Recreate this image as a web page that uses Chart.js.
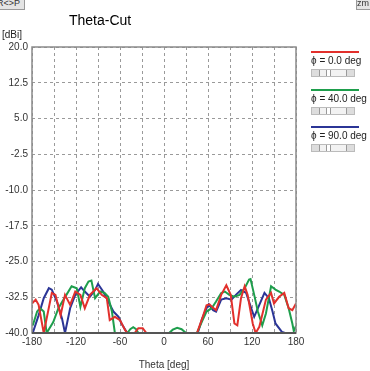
<!DOCTYPE html>
<html>
<head>
<meta charset="utf-8">
<script src="https://cdn.jsdelivr.net/npm/chart.js@4"></script>
<style>
  body { margin:0; background:#fff; font-family:"Liberation Sans Narrow","Liberation Sans",Arial,sans-serif; }
  #wrap { position:relative; width:370px; height:371px; overflow:hidden; }
  canvas { position:absolute; left:0; top:0; }
  .txt { position:absolute; color:#222; white-space:nowrap; }
  .btn { position:absolute; top:-3px; height:11px; background:#e4e4e4; border:1px solid #999; font-size:9px; line-height:11px; color:#333; }
  .leg { position:absolute; left:311px; width:48px; }
  .leg .ln { height:2px; }
  .leg .lb { font-size:10px; color:#222; margin-top:2px; white-space:nowrap; line-height:12px; }
  .sb { position:relative; margin-top:2px; width:42px; height:6px; background:#f2f2f2; border:1px solid #bbb; }
  .sb span { position:absolute; top:0; width:7px; height:6px; background:#ddd; border-right:1px solid #999; }
</style>
</head>
<body>
<div id="wrap">
  <canvas id="grafico" width="370" height="371"></canvas>
  <div class="btn" style="left:-4px;width:27px;">R&lt;&gt;P</div>
  <div class="btn" style="left:356px;width:18px;">zm</div>
  <div class="txt" style="left:69px;top:12px;font-size:14px;font-family:'Liberation Sans',Arial,sans-serif;color:#000;">Theta-Cut</div>
  <div class="txt" style="left:2px;top:29px;font-size:10px;">[dBi]</div>
  <div id="legenda"></div>
</div>
<script>
// dados (theta em graus, ganho em dBi)
var legendas = ["\u03d5 = 0.0 deg", "\u03d5 = 40.0 deg", "\u03d5 = 90.0 deg"];
var cores = ["#e2302c", "#1e9e4c", "#2b3596"];

var thetaVermelho = [-180,-175,-171,-164,-153,-148,-141,-135,-128,-121,-114,-108,-101,-92,-85,-78,-74,-67,-60,-53,-50,-40,-35,-29,-24,45,52,58,62,66,71,78,85,91,96,100,105,110,114,121,125,130,139,146,150,157,164,170,175,180];
var dbVermelho    = [-33.8,-33.0,-34.1,-40,-31.6,-32.0,-36.3,-32.0,-34.1,-31.3,-32.0,-34.8,-32.0,-30.6,-32.0,-32.7,-37.3,-36.6,-37.3,-39.4,-40,-40,-39.0,-39.0,-40,-40,-37.0,-34.2,-34.0,-34.6,-35.2,-32.0,-30.0,-32.0,-38.0,-38.4,-32.7,-30.2,-32.0,-38.0,-40,-38.7,-33.0,-31.6,-33.8,-32.4,-31.6,-34.8,-35.2,-33.8];

var thetaVerde = [-179,-173,-169,-164,-160,-151,-144,-137,-126,-119,-114,-108,-103,-99,-94,-87,-81,-76,-71,-67,-50,-46,-42,-38,-35,7,12,18,24,30,45,52,58,65,71,78,83,89,96,103,110,116,118,123,128,134,139,146,152,157,164,170,175,177,180];
var dbVerde    = [-38.4,-35.5,-34.8,-35.5,-40,-37.7,-34.8,-33.0,-30.2,-30.6,-34.5,-30.6,-29.2,-29.0,-32.7,-31.3,-31.6,-32.4,-35.5,-40,-40,-39.2,-38.8,-39.2,-40,-40,-39.3,-38.9,-39.2,-40,-40,-37.5,-35.5,-34.8,-33.4,-31.6,-31.3,-32.0,-32.4,-32.0,-30.6,-28.8,-28.7,-32.0,-35.5,-38.4,-35.9,-30.2,-30.9,-31.3,-32.0,-34.8,-38.0,-39.6,-38.5];

var thetaAzul = [-179,-171,-164,-157,-153,-146,-139,-135,-128,-121,-113,-108,-101,-94,-90,-83,-76,-69,-62,-58,-51,-48,46,52,58,61,67,71,78,85,92,98,105,112,119,123,130,137,143,148,152,161,165,180];
var dbAzul    = [-40,-36.3,-32.7,-30.6,-30.9,-33.4,-37.0,-40,-34.8,-32.0,-30.4,-31.3,-32.4,-31.0,-29.7,-31.3,-33.4,-35.5,-36.6,-38.0,-39.8,-40,-40,-37.0,-34.8,-34.0,-35.2,-35.5,-33.0,-32.7,-33.0,-32.0,-31.0,-31.6,-34.8,-36.6,-34.1,-31.6,-32.7,-35.5,-38.0,-39.8,-40,-40];

var yMin = -40, yMax = 20, yPasso = 7.5;
var xMin = -180, xMax = 180, xPasso = 30;

function pontos(t, v){
    var r = [];
    for(var i in t) r.push({x: t[i], y: v[i]});
    return r;
}

// legenda lateral com as barrinhas de rolagem
var html = "";
for(var i in legendas){
    html += "<div class='leg' style='top:" + (51 + i*37.5) + "px'>" +
            "<div class='ln' style='background:" + cores[i] + "'></div>" +
            "<div class='lb'>" + legendas[i] + "</div>" +
            "<div class='sb'><span style='left:0'></span><span style='left:14px;width:3px;background:#fff;border-left:1px solid #999'></span><span style='right:0;left:auto;border-right:none;border-left:1px solid #999'></span></div>" +
            "</div>";
}
document.getElementById("legenda").innerHTML = html;

var moldura = {
    id: "moldura",
    afterDraw: function(chart){
        var a = chart.chartArea, c = chart.ctx;
        c.save();
        c.strokeStyle = "#8a8a8a";
        c.lineWidth = 1.5;
        c.strokeRect(a.left, a.top, a.right - a.left, a.bottom - a.top);
        c.strokeStyle = "#555";
        c.lineWidth = 2;
        c.beginPath();
        c.moveTo(a.left, a.bottom);
        c.lineTo(a.right, a.bottom);
        c.stroke();
        c.restore();
    }
};

var series = [[thetaVermelho, dbVermelho], [thetaVerde, dbVerde], [thetaAzul, dbAzul]];
var datasets = [];
for(var i in series){
    datasets.push({
        label: legendas[i],
        data: pontos(series[i][0], series[i][1]),
        borderColor: cores[i],
        borderWidth: 2,
        pointRadius: 0,
        tension: 0
    });
}

var fonte = {family: "'Liberation Sans Narrow','Liberation Sans',Arial,sans-serif", size: 10};
new Chart(document.getElementById("grafico").getContext("2d"), {
    type: "line",
    data: {datasets: datasets},
    options: {
        responsive: false,
        animation: false,
        layout: {padding: {left: 0, right: 74, top: 47, bottom: 0}},
        plugins: {legend: {display: false}, tooltip: {enabled: false}},
        scales: {
            x: {
                type: "linear", min: xMin, max: xMax,
                afterFit: function(s){ s.height = 38; },
                ticks: {
                    stepSize: xPasso, autoSkip: false, maxRotation: 0, padding: 3, color: "#333", font: fonte,
                    callback: function(v){ return v % 60 === 0 ? v : ""; }
                },
                grid: {color: "#9a9a9a", drawTicks: false, tickLength: 0},
                border: {display: false, dash: [3, 3]},
                title: {display: true, text: "Theta [deg]", color: "#333", font: fonte, padding: {top: 3, bottom: 0}}
            },
            y: {
                min: yMin, max: yMax,
                afterFit: function(s){ s.width = 32; },
                ticks: {
                    stepSize: yPasso, padding: 4, color: "#333", font: fonte,
                    callback: function(v){ return v.toFixed(1); }
                },
                grid: {color: "#9a9a9a", drawTicks: false, tickLength: 0},
                border: {display: false, dash: [3, 3]}
            }
        }
    },
    plugins: [moldura]
});
</script>
</body>
</html>
